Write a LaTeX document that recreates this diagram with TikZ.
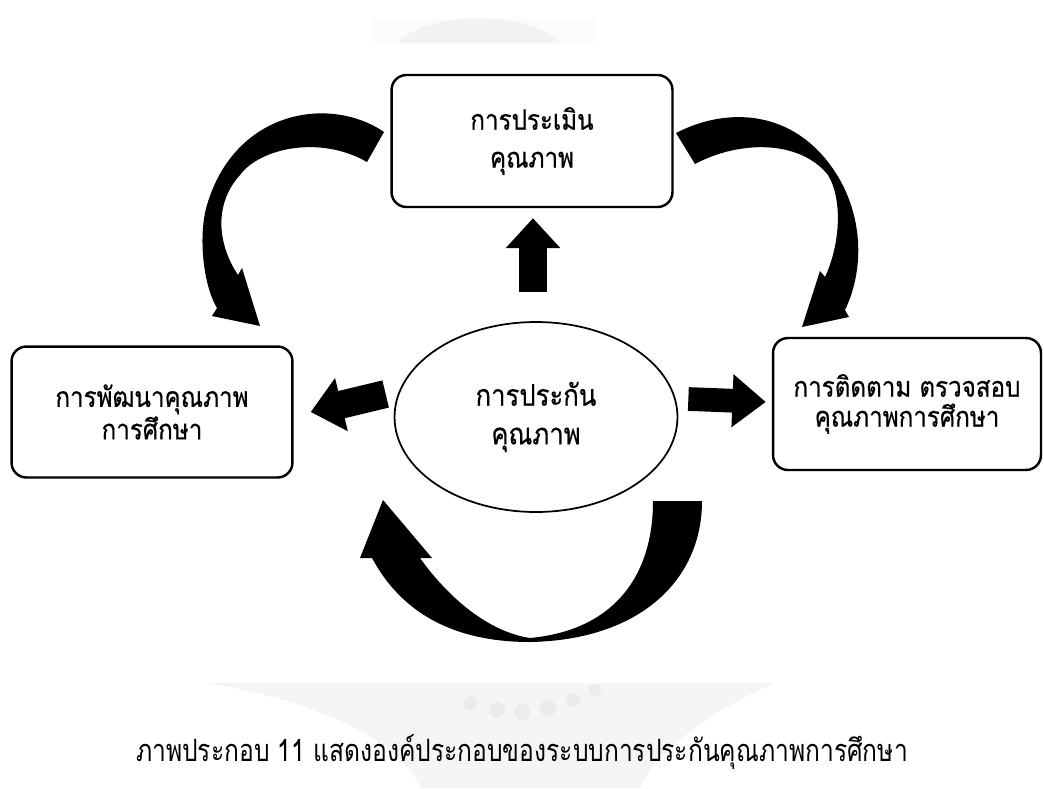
\documentclass[tikz,border=0pt]{standalone}
\usepackage{fontspec}
\setmainfont[Script=Thai]{Loma}
\newfontfamily\boxfont[Script=Thai,FakeStretch=0.86,FakeBold=0.5]{Loma}
\newfontfamily\capfont[Script=Thai,FakeStretch=0.8]{Loma}
\usetikzlibrary{shapes.geometric,arrows.meta}

\begin{document}
\begin{tikzpicture}[x=0.02cm,y=-0.02cm,
    tbox/.style={draw,line width=1.4pt,rounded corners=8.5pt,align=center,inner sep=0pt},
    fat/.style={line width=15.9pt,-{Triangle[width=30pt,length=17pt]}}]
        % Frame
        \useasboundingbox (0,0) rectangle (1044,788);
        % Watermark
        \fill[gray!3] (373,19) rectangle (597,43);
        \fill[gray!10] (397,43) .. controls (430,10) and (527,10) .. (560,43) -- cycle;
        \fill[gray!8] (205,683) -- (775,683) .. controls (700,715) and (650,760) .. (640,788) -- (420,788) .. controls (405,745) and (320,700) .. (205,683) -- cycle;
        \foreach \px/\py/\r in {470/703/7,497/710/8,522/712/8,548/708/8,573/700/7,595/690/6}
            \fill[gray!16] (\px,\py) circle (\r);
        % Nodes
        \node[tbox,minimum width=5.62cm,minimum height=2.64cm,font=\boxfont\fontsize{16}{21.5}\selectfont] (val) at (532,141) {\raisebox{-3pt}{การประเมิน}\\\raisebox{-3pt}{คุณภาพ}};
        \node[tbox,minimum width=5.62cm,minimum height=2.62cm,font=\boxfont\fontsize{16}{18.5}\selectfont] (dev) at (152,412) {การพัฒนาคุณภาพ\\การศึกษา};
        \node[tbox,minimum width=5.36cm,minimum height=2.64cm,font=\boxfont\fontsize{16}{17}\selectfont] (mon) at (907,404) {\raisebox{-2pt}{การติดตาม ตรวจสอบ}\\\raisebox{-2pt}{คุณภาพการศึกษา}};
        \node[draw,ellipse,line width=1pt,inner sep=0pt,minimum width=5.66cm,minimum height=3.8cm,align=center,font=\boxfont\fontsize{17}{22}\selectfont] (qa) at (536,417) {\raisebox{-3pt}{การประกัน}\\\raisebox{-3pt}{คุณภาพ}};
        % Straight arrows
        \draw[fat] ([shift={(-3,-29)}]qa.north) -- ([shift={(1,10)}]val.south);
        \draw[fat,-{Triangle[width=30pt,length=18pt]}] ([shift={(-8,-23)}]qa.west) -- ([shift={(17,0)}]dev.east);
        \draw[fat,line width=13.5pt,-{Triangle[width=29pt,length=19pt]}] ([shift={(10,-18)}]qa.east) -- ([shift={(-6,-2)}]mon.west);
        % Curved arrows
        \fill (384,132) .. controls (330,95) and (235,110) .. (207,205) .. controls (198,235) and (203,285) .. (217,308) -- (212,316) -- (260,326) -- (242,268) -- (238,275) .. controls (218,245) and (213,205) .. (240,175) .. controls (260,148) and (320,135) .. (367,162) -- cycle;
        \fill (676,133) .. controls (730,105) and (800,110) .. (840,180) .. controls (865,225) and (862,275) .. (845,310) -- (849,317) -- (802,327) -- (820,271) -- (825,277) .. controls (840,245) and (843,200) .. (828,175) .. controls (800,140) and (740,140) .. (695,164) -- cycle;
        \fill (702,501) .. controls (702,580) and (640,640) .. (530,642) .. controls (450,642) and (400,610) .. (372,558) -- (360,558) -- (383,500) -- (432,558) -- (420,558) .. controls (450,600) and (490,632) .. (530,638) .. controls (615,630) and (653,575) .. (653,501) -- cycle;
        % Caption
        \node[font=\capfont\fontsize{17.5}{20}\selectfont] (cap) at (522,752) {ภาพประกอบ 11 แสดงองค์ประกอบของระบบการประกันคุณภาพการศึกษา};
    \end{tikzpicture}
\end{document}
